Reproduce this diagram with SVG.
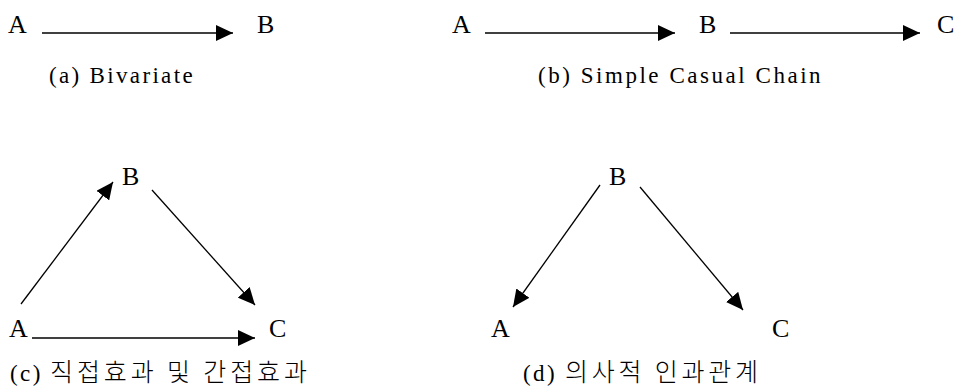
<svg xmlns="http://www.w3.org/2000/svg" width="968" height="392" viewBox="0 0 968 392">
<style>
text{font-family:"Liberation Serif","DejaVu Serif","Noto Sans CJK KR",serif;font-size:26px;fill:#000}
.cap{font-size:23px;letter-spacing:2.4px}
.k{font-family:"Noto Sans CJK KR",sans-serif;font-weight:300;font-size:25px;letter-spacing:0}
.c line{stroke:#000;stroke-width:1.3}
</style>
<defs>
<marker id="ah" viewBox="0 0 17 16" refX="17" refY="8" markerWidth="17" markerHeight="16" markerUnits="userSpaceOnUse" orient="auto"><path d="M0,0 L17,8 L0,16 Z" fill="#000"/></marker>
</defs>
<rect width="968" height="392" fill="#fff"/>
<g id="a-A"><text x="8" y="33">A</text></g>
<g id="a-B"><text x="257" y="33">B</text></g>
<g id="b-A"><text x="452" y="33">A</text></g>
<g id="b-B"><text x="699" y="33">B</text></g>
<g id="b-C"><text x="937" y="33">C</text></g>
<g id="c-B"><text x="122" y="185">B</text></g>
<g id="c-A"><text x="9" y="337">A</text></g>
<g id="c-C"><text x="269" y="337">C</text></g>
<g id="d-B"><text x="609" y="185">B</text></g>
<g id="d-A"><text x="491" y="337">A</text></g>
<g id="d-C"><text x="772" y="337">C</text></g>
<g id="captions">
<text class="cap" x="49" y="83" textLength="146" lengthAdjust="spacing">(a)  Bivariate</text>
<text class="cap" x="538" y="83" textLength="285" lengthAdjust="spacing">(b)  Simple  Casual  Chain</text>
<text class="cap" x="10" y="381">(c) <tspan class="k" x="50" textLength="257" lengthAdjust="spacing">직접효과 및 간접효과</tspan></text>
<text class="cap" x="523" y="381">(d) <tspan class="k" x="565" textLength="193" lengthAdjust="spacing">의사적 인과관계</tspan></text>
</g>
<g id="connectors" class="c">
<line x1="42" y1="33" x2="233" y2="33" marker-end="url(#ah)"/>
<line x1="485" y1="33" x2="675" y2="33" marker-end="url(#ah)"/>
<line x1="730" y1="33" x2="920" y2="33" marker-end="url(#ah)"/>
<line x1="21" y1="304" x2="113" y2="182" marker-end="url(#ah)"/>
<line x1="152" y1="190" x2="255" y2="305" marker-end="url(#ah)"/>
<line x1="32" y1="338" x2="255" y2="338" marker-end="url(#ah)"/>
<line x1="600" y1="185" x2="513" y2="307" marker-end="url(#ah)"/>
<line x1="640" y1="187" x2="743" y2="310" marker-end="url(#ah)"/>
</g>
</svg>
